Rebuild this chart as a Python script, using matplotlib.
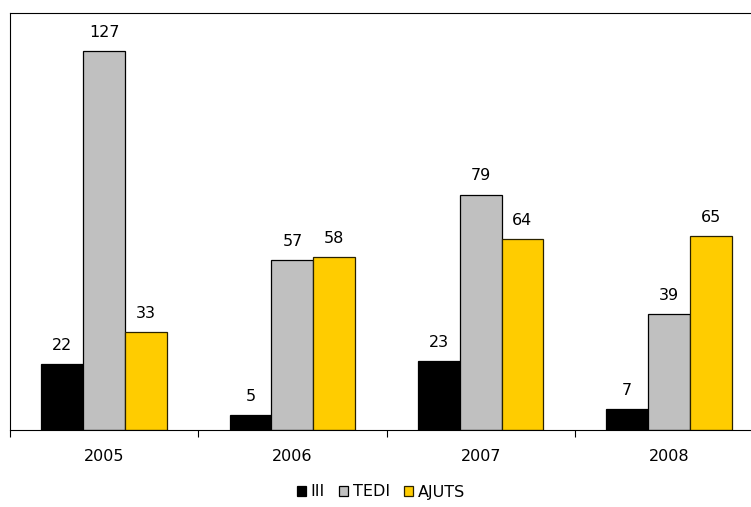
import matplotlib
matplotlib.use("Agg")
import matplotlib.pyplot as plt
import numpy as np

years = ["2005", "2006", "2007", "2008"]
series_names = ["III", "TEDI", "AJUTS"]
iii = [22, 5, 23, 7]
tedi = [127, 57, 79, 39]
ajuts = [33, 58, 64, 65]
colors = ["#000000", "#C0C0C0", "#FFCC00"]

plt.rcParams['font.family'] = ['DejaVu Sans']
fig = plt.figure(figsize=(7.51, 5.07), dpi=100)
W, H = 751, 507
left, right, top, bottom = 10, 763, 12.7, 430
ax = fig.add_axes([left / W, 1 - bottom / H, (right - left) / W, (bottom - top) / H])

x = np.arange(len(years))
bw = 0.222
data = [iii, tedi, ajuts]
for i, (vals, c, name) in enumerate(zip(data, colors, series_names)):
    bars = ax.bar(x + (i - 1) * bw, vals, width=bw, color=c, edgecolor="#000000" if i < 2 else "#2a2200",
                  linewidth=0.9, label=name)
    for b, v in zip(bars, vals):
        ax.annotate(str(v), (b.get_x() + b.get_width() / 2, v), xytext=(0, 8), textcoords="offset points",
                    ha="center", va="bottom", fontsize=11.5)

ax.set_xlim(-0.5, len(years) - 0.5)
ax.set_ylim(0, 140)
ax.set_yticks([])
ax.set_xticks(x)
ax.set_xticklabels(years, fontsize=11.5)
ax.tick_params(axis="x", length=0, pad=14)
# boundary ticks
ax.set_xticks(np.arange(-0.5, len(years) + 0.5, 1), minor=True)
ax.tick_params(axis="x", which="minor", length=5, width=0.8, color="#000000", direction="out")
for s in ["left", "top", "bottom", "right"]:
    ax.spines[s].set_linewidth(0.8)
    ax.spines[s].set_color("#000000")

handles, labels = ax.get_legend_handles_labels()
leg = fig.legend(handles, labels, loc="center", bbox_to_anchor=(381 / W, 1 - 492 / H), ncol=3,
                 frameon=False, fontsize=11.5, handlelength=0.55, handleheight=0.55,
                 handletextpad=0.3, columnspacing=0.9, borderpad=0)

fig.savefig("out.png", dpi=100)
